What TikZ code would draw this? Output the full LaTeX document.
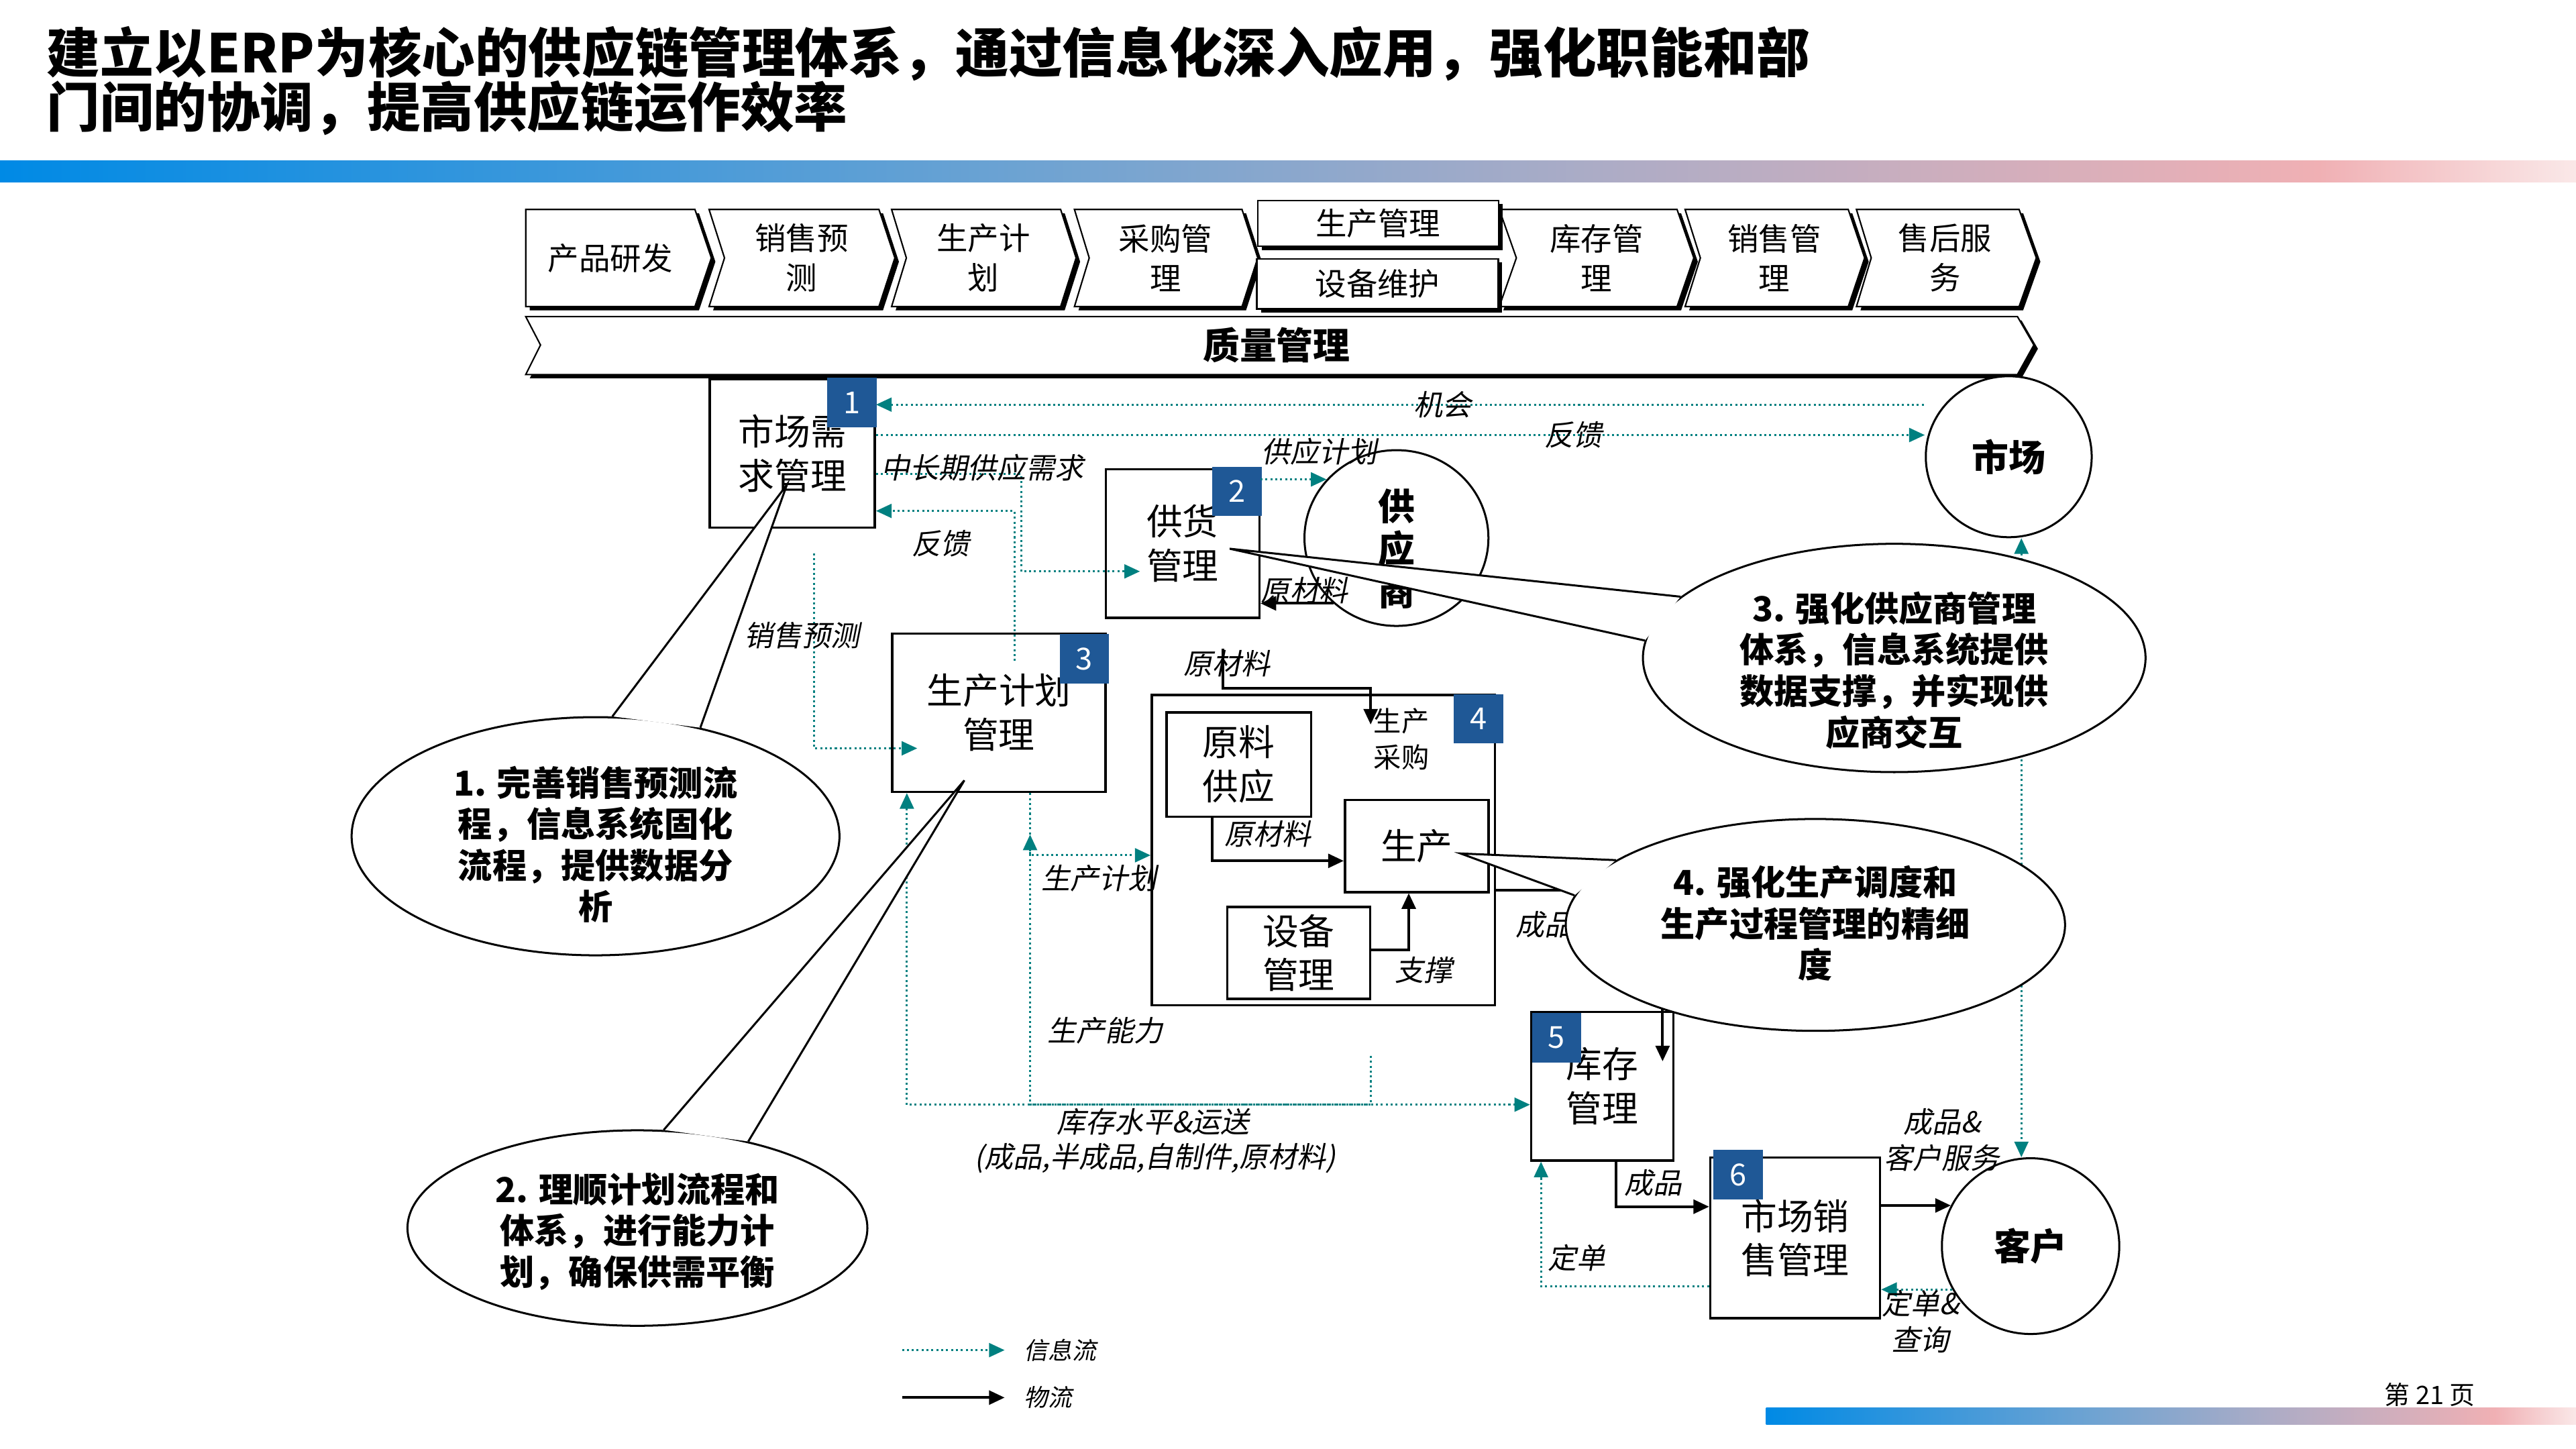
\documentclass[tikz,border=0pt]{standalone}
\usepackage{fontspec}
\setmainfont{Noto Sans CJK SC}
\newfontfamily\slfont{Noto Sans CJK SC}[FakeSlant=0.2]
\usetikzlibrary{arrows.meta,shapes.geometric,calc}

\definecolor{badgeblue}{RGB}{31,88,150}
\definecolor{barA}{RGB}{0,138,229}
\definecolor{barB}{RGB}{110,163,210}
\definecolor{barC}{RGB}{172,172,198}
\definecolor{barD}{RGB}{240,176,180}
\definecolor{barE}{RGB}{250,232,232}
\pgfdeclarehorizontalshading{hdrbar}{100bp}{color(0bp)=(barA); color(25bp)=(barA); color(45bp)=(barB); color(56bp)=(barC); color(70bp)=(barD); color(75bp)=(barE); color(100bp)=(barE)}

\tikzset{
    chev/.style={draw, line width=.5pt, fill=white, preaction={fill=black, transform canvas={shift={(1.4pt,-1.3pt)}}}},
    chevtxt/.style={inner sep=0pt, align=center, font=\fontsize{10.8}{13.6}\selectfont},
    box/.style={draw, line width=.8pt, fill=white, inner sep=0pt, align=center, font=\fontsize{12.5}{15.3}\selectfont},
    badge/.style={fill=badgeblue, text=white, minimum width=.6cm, minimum height=.6cm, inner sep=0pt, font=\fontsize{10.5}{12}\selectfont},
    blob/.style={ellipse, draw, line width=.7pt, fill=white, inner sep=0pt, align=center, font=\fontsize{12.75}{14.7}\selectfont\bfseries},
    blobtxt/.style={inner sep=0pt, align=center, font=\fontsize{12.75}{14.7}\selectfont\bfseries},
    note/.style={ellipse, draw, line width=.7pt, fill=white, inner sep=0pt},
    notetxt/.style={inner sep=0pt, align=center, font=\fontsize{11.9}{14.3}\selectfont\bfseries},
    tail/.style={draw, line width=.7pt, fill=white},
    info/.style={draw=teal, densely dotted, line width=.7pt},
    flow/.style={draw=black, line width=.9pt},
    lbl/.style={inner sep=0pt, align=center, font=\slfont\fontsize{10}{12.5}\selectfont},
    lgtxt/.style={inner sep=0pt, font=\slfont\fontsize{8.3}{10}\selectfont}
}

\begin{document}
\begin{tikzpicture}[x=0.02cm,y=-0.02cm,>={Triangle[length=1.9mm,width=1.7mm]}]
\fill[white] (0,0) rectangle (1568,882);
\useasboundingbox (0,0) rectangle (1568,882);

%title
\node[anchor=base west, inner sep=0pt, font=\fontsize{18.5}{22}\selectfont\bfseries] (ttlA) at (28,44.4){建立以ERP为核心的供应链管理体系，通过信息化深入应用，强化职能和部};
\node[anchor=base west, inner sep=0pt, font=\fontsize{18.5}{22}\selectfont\bfseries] (ttlB) at (28,77.4){门间的协调，提高供应链运作效率};
\shade[shading=hdrbar] (0,98) rectangle (1568,111);
\shade[shading=hdrbar] (1075,857) rectangle (1568,867);
\node[font=\fontsize{8.8}{10}\selectfont] (pageNo) at (1479,849){第 21 页};

%stages
\foreach \a/\b/\c/\d/\lab [count=\i] in {320/320/423/433/产品研发, 431.6/441/535/544.7/销售预\\测, 542.7/551.7/645.6/655/生产计\\划, 654/663/756/765.6/采购管\\理, 912.6/923/1020.8/1031/库存管\\理, 1025.7/1035/1125/1135/销售管\\理, 1130/1139/1229/1239.5/售后服\\务}{
    \path[chev] (\a,127.5) -- (\c,127.5) -- (\d,157) -- (\c,186.6) -- (\a,186.6) -- (\b,157) -- cycle;
    \node[chevtxt] (stage\i) at ({(\b+\c)/2},157){\lab};
}
\node[chev, chevtxt, minimum width=2.93cm, minimum height=.56cm] (stageMfg) at (838.8,136){生产管理};
\node[chev, chevtxt, minimum width=2.94cm, minimum height=.61cm] (stageEqp) at (838.5,172.8){设备维护};
\path[chev] (320,192.7) -- (1228,192.7) -- (1238,210) -- (1228,228) -- (320,228) -- (329,210) -- cycle;
\node[font=\fontsize{12.75}{14}\selectfont\bfseries] (quality) at (777,210){质量管理};

%units
\node[box, minimum width=2.01cm, minimum height=1.806cm] (dem) at (482.3,275.9){市场需\\求管理};
\node[box, minimum width=1.87cm, minimum height=1.81cm] (sply) at (719.8,330.8){供货\\管理};
\node[box, minimum width=2.6cm, minimum height=1.93cm] (plan) at (608,433.8){生产计划\\管理};
\node[box, minimum width=4.18cm, minimum height=3.78cm] (mfg) at (805.5,517.5){};
\node[box, minimum width=1.76cm, minimum height=1.27cm] (raw) at (754,465.3){原料\\供应};
\node[box, minimum width=1.748cm, minimum height=1.12cm] (prod) at (862.3,515){生产};
\node[box, minimum width=1.74cm, minimum height=1.12cm] (equip) at (790.5,580){设备\\管理};
\node[box, minimum width=1.732cm, minimum height=1.808cm] (stock) at (975.3,661.2){库存\\管理};
\node[box, minimum width=2.068cm, minimum height=1.958cm] (sale) at (1092.7,753.5){市场销\\售管理};
\node[inner sep=0pt, align=center, font=\fontsize{9.6}{12.5}\selectfont] (buy) at (853,450){生产\\采购};
\node[blob, minimum width=2.02cm, minimum height=1.96cm] (mkt) at (1222.7,278){市场};
\node[blob, minimum width=2.24cm, minimum height=2.14cm] (sup) at (850,327.5){};
\node[blobtxt] (supTxt) at (850,334){供\\应\\商};
\node[blob, minimum width=2.16cm, minimum height=2.14cm] (cust) at (1236,758.5){客户};

\foreach \n/\x/\y in {1/518.5/245, 2/753/299, 3/660/401, 4/900/437.5, 5/947.5/631.6, 6/1058/715}{
    \node[badge] (tag\n) at (\x,\y){\n};
}

%information flow
\draw[info,<-] (dem.east |- 0,246.3) -- node[lbl,pos=.54] (lblChance){机会} (mkt.west |- 0,246.3);
\draw[info,->] (dem.east |- 0,264.8) -- node[lbl,pos=.665] (lblFbA){反馈} (mkt.west |- 0,264.8);
\draw[info,->] (dem.east |- 0,288.6) -| (621.7,347.8) -- ($(sply.west)+(21.5,17)$);
\draw[info,->] ($(plan.north)+(9.5,17.5)$) |- (dem.east |- 0,311);
\draw[info,->,shorten <=3mm] (dem.south -| 495.5,0) |- ($(plan.west)+(16,21.7)$);
\draw[info,->] (sply.east |- sup.140) -- (sup.140);
\draw[info,->] (plan.south -| 627,0) |- (mfg.west |- 0,520.6);
\draw[info,->,shorten <=6mm] (mfg.south -| 834.3,0) |- (627,672.4) -- (627,508);
\draw[info,<->] (plan.south -| 552,0) |- (stock.west |- 0,672.4);
\draw[info,->] (cust.209) -- (sale.east |- cust.209);
\draw[info,->] (sale.west |- 0,783) -| (stock.south -| 938,0);
\draw[info,<->] (mkt.south -| 1230.4,0) -- (cust.north -| 1230.4,0);

%material flow
\coordinate (rawIn) at (744.5,395);
\draw[flow,->] (sup.226) -- (sply.east |- sup.226);
\draw[flow,->] (rawIn) |- (834.3,419) -- (834.3,441);
\draw[flow,->] (raw.south -| 738,0) |- (prod.west |- 0,524);
\draw[flow,->] (equip.east |- 0,578.3) -| (prod.south -| 857.5,0);
\draw[flow,->] (mfg.east |- 0,542) -| (1012,646);
\draw[flow,->] (stock.south -| 983.7,0) |- (sale.west |- 0,734.5);
\draw[flow,->] (sale.east |- cust.153) -- (cust.153);

%labels
\node[lbl] (lblLong) at (598,284.5){中长期供应需求};
\node[lbl] (lblFbB) at (572.5,330.7){反馈};
\node[lbl] (lblFcst) at (488,386.6){销售预测};
\node[lbl] (lblSpPlan) at (802.8,274.8){供应计划};
\node[lbl] (lblRawA) at (794,359.4){原材料};
\node[lbl] (lblRawB) at (747,404){原材料};
\node[lbl] (lblRawC) at (771.6,507.5){原材料};
\node[lbl] (lblSupport) at (866.7,590.3){支撑};
\node[lbl] (lblPlan) at (669,534.8){生产计划};
\node[lbl] (lblCap) at (672.7,627.5){生产能力};
\node[lbl] (lblStockA) at (702,683){库存水平\&运送};
\node[lbl] (lblStockB) at (703,705){(成品,半成品,自制件,原材料)};
\node[lbl] (lblGoodsA) at (940,563){成品};
\node[lbl] (lblGoodsB) at (1006.4,720){成品};
\node[lbl] (lblService) at (1182,694){成品\&\\客户服务};
\node[lbl] (lblOrderA) at (959.6,765.5){定单};
\node[lbl] (lblOrderB) at (1169,804.5){定单\&\\查询};

%legend
\node[lgtxt, anchor=west] (lgInfo) at (623,821.8){信息流};
\node[lgtxt, anchor=west] (lgFlow) at (623,850.7){物流};
\coordinate (lgA) at (549,821.8);
\coordinate (lgB) at (549,850.7);
\draw[info,->,shorten >=2.3mm] (lgA) -- (lgInfo.west);
\draw[flow,->,shorten >=2.3mm] (lgB) -- (lgFlow.west);

%callouts
\coordinate (tipA) at (479,295);
\coordinate (tipB) at (587,475);
\coordinate (tipC) at (748.5,334);
\coordinate (tipD) at (889,519.5);
\node[note, minimum width=5.94cm, minimum height=2.9cm] (noteA) at (362.5,509){};
\filldraw[tail] (noteA.82) -- (tipA) -- (noteA.46);
\node[notetxt] (noteAtxt) at (362.5,514){1. 完善销售预测流\\程，信息系统固化\\流程，提供数据分\\析};
\node[note, minimum width=5.6cm, minimum height=2.38cm] (noteB) at (388,747.5){};
\filldraw[tail] (noteB.75.8) -- (tipB) -- (noteB.38.4);
\node[notetxt] (noteBtxt) at (388,749.5){2. 理顺计划流程和\\体系，进行能力计\\划，确保供需平衡};
\node[note, minimum width=6.12cm, minimum height=2.78cm] (noteC) at (1153,400.5){};
\filldraw[tail] (noteC.164.8) -- (tipC) -- (noteC.176);
\node[notetxt] (noteCtxt) at (1153,408){3. 强化供应商管理\\体系，信息系统提供\\数据支撑，并实现供\\应商交互};
\node[note, minimum width=6.08cm, minimum height=2.58cm] (noteD) at (1105,563){};
\filldraw[tail] (noteD.162.6) -- (tipD) -- (noteD.173.8);
\node[notetxt] (noteDtxt) at (1105,562){4. 强化生产调度和\\生产过程管理的精细\\度};

\end{tikzpicture}
\end{document}
